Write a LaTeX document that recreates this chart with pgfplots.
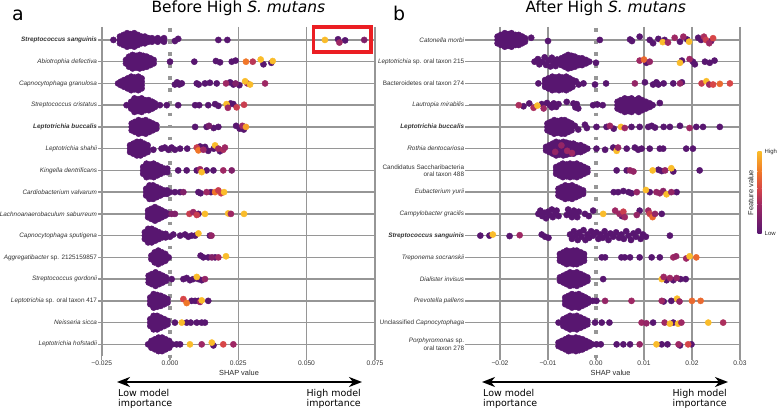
\documentclass[border=0pt]{standalone}
\usepackage{fontspec}
\setmainfont{Liberation Sans}
\newfontfamily\dejavu{DejaVu Sans}
\usepackage{pgfplots}
\pgfplotsset{compat=1.18}
\usetikzlibrary{arrows.meta}

\definecolor{gridgray}{RGB}{150,150,150}
\definecolor{zerogray}{RGB}{150,150,150}
\definecolor{lowpurple}{RGB}{88,22,112}
\definecolor{cmA}{RGB}{158,40,100}
\definecolor{cmB}{RGB}{215,70,72}
\definecolor{cmC}{RGB}{240,118,40}
\definecolor{highyellow}{RGB}{250,188,42}
\definecolor{boxred}{RGB}{235,30,35}

\pgfplotsset{
  colormap={shap}{rgb255(0cm)=(88,22,112); rgb255(3.5cm)=(158,40,100); rgb255(5.5cm)=(215,70,72); rgb255(7.5cm)=(240,118,40); rgb255(10cm)=(250,188,42)},
  panel/.style={
    anchor=center, scale only axis, height=329.4bp,
    ymin=0.4, ymax=15.55, y dir=reverse,
    axis line style={draw=none},
    ytick={1,...,15}, tick pos=left,
    scaled x ticks=false,
    xmajorgrids, ymajorgrids,
    grid style={gridgray, line width=1.6bp},
    tick align=outside, major tick length=3.5bp,
    tick style={gridgray, line width=1.3bp},
    xticklabel style={font=\fontsize{6.7}{8}\selectfont, text=black!80, inner sep=1bp},
    yticklabel style={font=\fontsize{6.4}{7.3}\selectfont\itshape, text=black!80, align=right, inner sep=1bp},
    extra x ticks={0}, extra x tick style={grid=none},
    colormap name=shap, point meta min=0, point meta max=1,
    clip=false,
  },
  purpledots/.style={only marks, mark=*, mark size=3.1bp, color=lowpurple},
  colordots/.style={only marks, scatter, scatter src=explicit, mark=*, mark size=3.1bp,
    scatter/use mapped color={draw=mapped color, fill=mapped color}},
  zeroline/.style={no marks, zerogray, line width=3.6bp, dash pattern=on 3.6bp off 8.5bp},
}

\begin{document}
\begin{tikzpicture}
\useasboundingbox (0bp,0bp) rectangle (778bp,409bp);

% ---------------- panel a: before ----------------
\begin{axis}[panel,
  at={(238.3bp,217.4bp)}, width=273.2bp,
  xmin=-0.025, xmax=0.075,
  xtick={-0.025,0.025,0.05,0.075},
  xticklabels={−0.025,0.025,0.050,0.075},
  extra x tick labels={0.000},
  yticklabels={
    {\bfseries Streptococcus sanguinis},
    Abiotrophia defectiva,
    Capnocytophaga granulosa,
    Streptococcus cristatus,
    {\bfseries Leptotrichia buccalis},
    Leptotrichia shahii,
    Kingella dentrificans,
    Cardiobacterium valvarum,
    Lachnoanaerobaculum saburreum,
    Capnocytophaga sputigena,
    {Aggregatibacter {\upshape sp. 2125159857}},
    Streptococcus gordonii,
    {Leptotrichia {\upshape sp. oral taxon 417}},
    Neisseria sicca,
    Leptotrichia hofstadii},
]
\addplot[zeroline] coordinates {(0,0.45) (0,15.7)};
\addplot[purpledots] coordinates {
% row 1
(-0.0207,1)
(-0.0183,0.845)(-0.0183,1)(-0.0183,1.155)
(-0.0170,0.77)(-0.0170,0.92)(-0.0170,1.08)(-0.0170,1.23)
(-0.0157,0.69)(-0.0157,0.845)(-0.0157,1)(-0.0157,1.155)(-0.0157,1.31)
(-0.0144,0.73)(-0.0144,0.92)(-0.0144,1.08)(-0.0144,1.27)
(-0.0131,0.69)(-0.0131,0.845)(-0.0131,1)(-0.0131,1.155)(-0.0131,1.31)
(-0.0118,0.77)(-0.0118,0.92)(-0.0118,1.08)(-0.0118,1.23)
(-0.0105,0.845)(-0.0105,1)(-0.0105,1.155)
(-0.0092,0.845)(-0.0092,1)(-0.0092,1.155)
(-0.0079,0.92)(-0.0079,1.08)(-0.0066,0.92)(-0.0066,1.08)(-0.0055,1)
(-0.0045,0.92)(-0.0045,1.08)(-0.0032,1)(-0.0022,0.92)(-0.0022,1.08)
(0.0018,1.05)(0.0030,0.95)(0.0177,1)(0.0210,1)(0.0615,0.97)(0.0641,1.02)
% row 2
(-0.0161,1.92)(-0.0161,2.08)
(-0.0150,1.77)(-0.0150,1.92)(-0.0150,2.08)(-0.0150,2.23)
(-0.0137,1.69)(-0.0137,1.845)(-0.0137,2)(-0.0137,2.155)(-0.0137,2.31)
(-0.0124,1.73)(-0.0124,1.92)(-0.0124,2.08)(-0.0124,2.27)
(-0.0111,1.69)(-0.0111,1.845)(-0.0111,2)(-0.0111,2.155)(-0.0111,2.31)
(-0.0098,1.73)(-0.0098,1.92)(-0.0098,2.08)(-0.0098,2.27)
(-0.0085,1.77)(-0.0085,1.92)(-0.0085,2.08)(-0.0085,2.23)
(-0.0072,1.845)(-0.0072,2)(-0.0072,2.155)
(-0.0060,1.92)(-0.0060,2.08)
(0,2)(0.0089,2)(0.0168,1.97)(0.0183,2.03)(0.0226,2)(0.0240,1.95)(0.0342,2.12)(0.0371,2.05)
% row 3
(-0.0190,3)
(-0.0180,2.92)(-0.0180,3.08)
(-0.0168,2.845)(-0.0168,3)(-0.0168,3.155)
(-0.0155,2.77)(-0.0155,2.92)(-0.0155,3.08)(-0.0155,3.23)
(-0.0142,2.69)(-0.0142,2.845)(-0.0142,3)(-0.0142,3.155)(-0.0142,3.31)
(-0.0129,2.73)(-0.0129,2.92)(-0.0129,3.08)(-0.0129,3.27)
(-0.0116,2.69)(-0.0116,2.845)(-0.0116,3)(-0.0116,3.155)(-0.0116,3.31)
(-0.0104,2.77)(-0.0104,2.92)(-0.0104,3.08)(-0.0104,3.23)
(0.0018,3.05)(0.0026,2.95)(0.0034,3.05)(0.0043,3)(0.0098,3)(0.0105,3.05)(0.0128,3)(0.0146,2.97)(0.0171,3)(0.0220,2.95)(0.0232,3.05)(0.0254,3.08)
% row 4
(-0.0159,4)
(-0.0142,3.845)(-0.0142,4)(-0.0142,4.155)
(-0.0130,3.69)(-0.0130,3.845)(-0.0130,4)(-0.0130,4.155)(-0.0130,4.31)
(-0.0117,3.73)(-0.0117,3.92)(-0.0117,4.08)(-0.0117,4.27)
(-0.0104,3.69)(-0.0104,3.845)(-0.0104,4)(-0.0104,4.155)(-0.0104,4.31)
(-0.0091,3.77)(-0.0091,3.92)(-0.0091,4.08)(-0.0091,4.23)
(-0.0078,3.77)(-0.0078,3.92)(-0.0078,4.08)(-0.0078,4.23)
(-0.0065,3.845)(-0.0065,4)(-0.0065,4.155)
(-0.0055,3.92)(-0.0055,4.08)
(-0.0037,4)(-0.0012,4)(0.0030,4)(0.0092,4)(0.0107,4)(0.0140,4)(0.0165,3.95)(0.0177,4.03)(0.0222,3.92)(0.0232,3.95)
% row 5
(-0.0140,4.845)(-0.0140,5)(-0.0140,5.155)
(-0.0128,4.77)(-0.0128,4.92)(-0.0128,5.08)(-0.0128,5.23)
(-0.0115,4.69)(-0.0115,4.845)(-0.0115,5)(-0.0115,5.155)(-0.0115,5.31)
(-0.0102,4.73)(-0.0102,4.92)(-0.0102,5.08)(-0.0102,5.27)
(-0.0089,4.69)(-0.0089,4.845)(-0.0089,5)(-0.0089,5.155)(-0.0089,5.31)
(-0.0076,4.77)(-0.0076,4.92)(-0.0076,5.08)(-0.0076,5.23)
(-0.0063,4.845)(-0.0063,5)(-0.0063,5.155)
(-0.0050,4.92)(-0.0050,5.08)
(0.0092,5)(0.0134,5)(0.0160,5.05)(0.0177,5)(0.0242,4.95)(0.0255,5.08)(0.0270,5.12)
% row 6
(-0.0146,5.845)(-0.0146,6)(-0.0146,6.155)
(-0.0134,5.77)(-0.0134,5.92)(-0.0134,6.08)(-0.0134,6.23)
(-0.0121,5.69)(-0.0121,5.845)(-0.0121,6)(-0.0121,6.155)(-0.0121,6.31)
(-0.0108,5.69)(-0.0108,5.845)(-0.0108,6)(-0.0108,6.155)(-0.0108,6.31)
(-0.0095,5.77)(-0.0095,5.92)(-0.0095,6.08)(-0.0095,6.23)
(-0.0082,5.845)(-0.0082,6)(-0.0082,6.155)
(-0.0061,6.05)(-0.0031,6)(-0.0019,5.95)(-0.0006,6.05)(0.0006,5.95)(0.0018,6.05)(0.0037,6)(0.0063,6)(0.0110,5.9)(0.0128,5.92)(0.0140,6.1)(0.0160,6)(0.0183,6.12)
% row 7
(-0.0098,6.845)(-0.0098,7)(-0.0098,7.155)
(-0.0086,6.69)(-0.0086,6.845)(-0.0086,7)(-0.0086,7.155)(-0.0086,7.31)
(-0.0073,6.73)(-0.0073,6.92)(-0.0073,7.08)(-0.0073,7.27)
(-0.0060,6.69)(-0.0060,6.845)(-0.0060,7)(-0.0060,7.155)(-0.0060,7.31)
(-0.0047,6.77)(-0.0047,6.92)(-0.0047,7.08)(-0.0047,7.23)
(-0.0034,6.845)(-0.0034,7)(-0.0034,7.155)
(-0.0021,6.92)(-0.0021,7.08)(-0.0010,6.92)(-0.0010,7.08)
(0.0030,7)(0.0061,7)(0.0098,7)(0.0134,7)(0.0159,7)
% row 8
(-0.0087,7.845)(-0.0087,8)(-0.0087,8.155)
(-0.0075,7.69)(-0.0075,7.845)(-0.0075,8)(-0.0075,8.155)(-0.0075,8.31)
(-0.0062,7.69)(-0.0062,7.845)(-0.0062,8)(-0.0062,8.155)(-0.0062,8.31)
(-0.0049,7.77)(-0.0049,7.92)(-0.0049,8.08)(-0.0049,8.23)
(-0.0036,7.845)(-0.0036,8)(-0.0036,8.155)
(-0.0023,7.92)(-0.0023,8.08)(-0.0011,7.92)(-0.0011,8.08)
(0,8)(0.0018,8)(0.0037,8)(0.0104,8)(0.0112,8.05)(0.0150,8)
% row 9
(-0.0080,8.845)(-0.0080,9)(-0.0080,9.155)
(-0.0068,8.77)(-0.0068,8.92)(-0.0068,9.08)(-0.0068,9.23)
(-0.0055,8.69)(-0.0055,8.845)(-0.0055,9)(-0.0055,9.155)(-0.0055,9.31)
(-0.0042,8.77)(-0.0042,8.92)(-0.0042,9.08)(-0.0042,9.23)
(-0.0030,8.845)(-0.0030,9)(-0.0030,9.155)
(-0.0018,8.92)(-0.0018,9.08)(-0.0007,9)
(0.0104,9)
% row 10
(-0.0092,9.845)(-0.0092,10)(-0.0092,10.155)
(-0.0080,9.69)(-0.0080,9.845)(-0.0080,10)(-0.0080,10.155)(-0.0080,10.31)
(-0.0067,9.69)(-0.0067,9.845)(-0.0067,10)(-0.0067,10.155)(-0.0067,10.31)
(-0.0054,9.77)(-0.0054,9.92)(-0.0054,10.08)(-0.0054,10.23)
(-0.0041,9.845)(-0.0041,10)(-0.0041,10.155)
(-0.0028,9.92)(-0.0028,10.08)(-0.0016,9.92)(-0.0016,10.08)
(0,10.05)(0.0012,9.95)(0.0037,10)(0.0055,9.95)(0.0067,10.05)(0.0079,10)(0.0092,10)(0.0146,10)
% row 11
(-0.0068,10.92)(-0.0068,11.08)
(-0.0056,10.77)(-0.0056,10.92)(-0.0056,11.08)(-0.0056,11.23)
(-0.0043,10.69)(-0.0043,10.845)(-0.0043,11)(-0.0043,11.155)(-0.0043,11.31)
(-0.0030,10.77)(-0.0030,10.92)(-0.0030,11.08)(-0.0030,11.23)
(-0.0017,10.845)(-0.0017,11)(-0.0017,11.155)
(-0.0005,11)
(0.0112,10.92)(0.0122,11)(0.0140,11)(0.0165,11)
% row 12
(-0.0078,11.845)(-0.0078,12)(-0.0078,12.155)
(-0.0066,11.77)(-0.0066,11.92)(-0.0066,12.08)(-0.0066,12.23)
(-0.0053,11.69)(-0.0053,11.845)(-0.0053,12)(-0.0053,12.155)(-0.0053,12.31)
(-0.0040,11.77)(-0.0040,11.92)(-0.0040,12.08)(-0.0040,12.23)
(-0.0027,11.845)(-0.0027,12)(-0.0027,12.155)
(-0.0015,11.92)(-0.0015,12.08)
(0.0006,12)(0.0049,12)(0.0061,11.95)(0.0073,12.05)(0.0085,12)(0.0104,12)(0.0116,12.05)
% row 13
(-0.0072,12.845)(-0.0072,13)(-0.0072,13.155)
(-0.0060,12.69)(-0.0060,12.845)(-0.0060,13)(-0.0060,13.155)(-0.0060,13.31)
(-0.0047,12.73)(-0.0047,12.92)(-0.0047,13.08)(-0.0047,13.27)
(-0.0034,12.77)(-0.0034,12.92)(-0.0034,13.08)(-0.0034,13.23)
(-0.0021,12.845)(-0.0021,13)(-0.0021,13.155)
(-0.0009,12.92)(-0.0009,13.08)
(0.0079,13)(0.0092,13)(0.0104,13)(0.0140,13)
% row 14
(-0.0072,13.845)(-0.0072,14)(-0.0072,14.155)
(-0.0060,13.69)(-0.0060,13.845)(-0.0060,14)(-0.0060,14.155)(-0.0060,14.31)
(-0.0047,13.69)(-0.0047,13.845)(-0.0047,14)(-0.0047,14.155)(-0.0047,14.31)
(-0.0034,13.77)(-0.0034,13.92)(-0.0034,14.08)(-0.0034,14.23)
(-0.0021,13.845)(-0.0021,14)(-0.0021,14.155)
(-0.0009,13.92)(-0.0009,14.08)
(0.0018,14)(0.0061,14)(0.0076,14)(0.0098,14)(0.0116,14)(0.0128,14)
% row 15
(-0.0080,15)
(-0.0068,14.845)(-0.0068,15)(-0.0068,15.155)
(-0.0055,14.77)(-0.0055,14.92)(-0.0055,15.08)(-0.0055,15.23)
(-0.0042,14.69)(-0.0042,14.845)(-0.0042,15)(-0.0042,15.155)(-0.0042,15.31)
(-0.0029,14.69)(-0.0029,14.845)(-0.0029,15)(-0.0029,15.155)(-0.0029,15.31)
(-0.0016,14.77)(-0.0016,14.92)(-0.0016,15.08)(-0.0016,15.23)
(-0.0003,14.845)(-0.0003,15)(-0.0003,15.155)
(0.0008,15)
(0.0024,15)(0.0037,15)(0.0159,15.05)
};
\addplot[colordots] coordinates {
(0.0567,1)[1] (0.0620,1.12)[0.35] (0.0711,1)[0.2]
(0.0278,2)[0.75] (0.0303,2)[0.45] (0.0332,1.9)[1] (0.0376,1.97)[1]
(0.0205,3)[0.35] (0.0240,3)[0.2] (0.0283,3)[0.35] (0.0275,2.9)[1] (0.0293,3.05)[1] (0.0348,3)[0.35]
(0.0207,3.95)[1] (0.0212,4.12)[0.35] (0.0244,4.1)[0.5] (0.0271,3.98)[0.5]
(0.0143,4.95)[0.15] (0.0265,4.95)[0.35] (0.0278,5)[0.9]
(0.0098,5.95)[0.5] (0.0104,6.08)[0.75] (0.0122,6.05)[0.35] (0.0165,5.85)[1] (0.0177,6)[0.35] (0.0195,6.05)[0.4] (0.0201,5.95)[0.35]
(0.0110,6.95)[0.35] (0.0116,7.08)[1] (0.0195,7)[0.35] (0.0226,7)[0.2]
(0.0049,8)[0.2] (0.0134,8)[0.35] (0.0165,8)[0.75] (0.0177,7.92)[0.5] (0.0187,8.05)[0.5] (0.0198,8)[1]
(0.0006,9)[0.2] (0.0018,9)[0.2] (0.0071,9)[0.5] (0.0085,8.92)[0.35] (0.0098,9.05)[0.5] (0.0128,9)[1] (0.0213,8.98)[1] (0.0223,9)[0.35] (0.0271,9)[1]
(0.0104,9.9)[1] (0.0152,10)[0.3]
(0.0153,11)[0.2] (0.0177,11)[0.35] (0.0205,10.95)[1]
(0.0098,11.9)[1] (0.0128,12)[0.3]
(0.0049,12.92)[0.55] (0.0061,13.1)[0.75] (0.0110,13.05)[0.35] (0.0116,12.98)[1]
(0.0043,14)[1]
(0.0073,15)[1] (0.0116,15)[0.35] (0.0153,14.92)[1] (0.0195,15)[0.55] (0.0232,15)[0.35]
};
\end{axis}

% ---------------- panel b: after ----------------
\begin{axis}[panel,
  at={(605.1bp,217.4bp)}, width=272.6bp,
  xmin=-0.0265, xmax=0.0303,
  xtick={-0.02,-0.01,0.01,0.02,0.03},
  xticklabels={−0.02,−0.01,0.01,0.02,0.03},
  extra x tick labels={0.00},
  yticklabels={
    Catonella morbi,
    {Leptotrichia {\upshape sp. oral taxon 215}},
    {\upshape Bacteroidetes oral taxon 274},
    Lautropia mirabilis,
    {\bfseries Leptotrichia buccalis},
    Rothia dentocariosa,
    {{\upshape Candidatus Saccharibacteria}\\{\upshape oral taxon 488}},
    Eubacterium yurii,
    Campylobacter gracilis,
    {\bfseries Streptococcus sanguinis},
    Treponema socranskii,
    Dialister invisus,
    Prevotella pallens,
    {{\upshape Unclassified} Capnocytophaga},
    {Porphyromonas {\upshape sp.}\\{\upshape oral taxon 278}}},
]
\addplot[zeroline] coordinates {(0,0.45) (0,15.7)};
\addplot[purpledots] coordinates {
% row 1
(-0.0205,0.845)(-0.0205,1)(-0.0205,1.155)
(-0.0198,0.77)(-0.0198,0.92)(-0.0198,1.08)(-0.0198,1.23)
(-0.0190,0.69)(-0.0190,0.845)(-0.0190,1)(-0.0190,1.155)(-0.0190,1.31)
(-0.0183,0.73)(-0.0183,0.92)(-0.0183,1.08)(-0.0183,1.27)
(-0.0176,0.69)(-0.0176,0.845)(-0.0176,1)(-0.0176,1.155)(-0.0176,1.31)
(-0.0168,0.77)(-0.0168,0.92)(-0.0168,1.08)(-0.0168,1.23)
(-0.0161,0.77)(-0.0161,0.92)(-0.0161,1.08)(-0.0161,1.23)
(-0.0154,0.845)(-0.0154,1)(-0.0154,1.155)
(-0.0148,0.92)(-0.0148,1.08)
(-0.0135,0.9)(-0.0100,1.05)(0.0008,1)(0.0071,0.98)(0.0075,1.05)(0.0091,0.85)(0.0112,1)(0.0119,1.15)(0.0130,0.95)(0.0143,1)(0.0175,1.08)(0.0190,0.98)(0.0213,0.9)(0.0219,1)(0.0240,1.05)
% row 2
(-0.0128,2)(-0.0121,1.88)(-0.0118,2.12)(-0.0112,2)(-0.0107,1.8)(-0.0104,2.15)(-0.0099,1.95)(-0.0095,2.22)(-0.0092,1.82)(-0.0088,2.05)(-0.0084,2.2)(-0.0081,1.9)(-0.0078,2.05)
(-0.0072,1.845)(-0.0072,2)(-0.0072,2.155)
(-0.0065,1.77)(-0.0065,1.92)(-0.0065,2.08)(-0.0065,2.23)
(-0.0058,1.69)(-0.0058,1.845)(-0.0058,2)(-0.0058,2.155)(-0.0058,2.31)
(-0.0051,1.73)(-0.0051,1.92)(-0.0051,2.08)(-0.0051,2.27)
(-0.0044,1.77)(-0.0044,1.92)(-0.0044,2.08)(-0.0044,2.23)
(-0.0036,1.845)(-0.0036,2)(-0.0036,2.155)
(-0.0029,1.845)(-0.0029,2)(-0.0029,2.155)
(-0.0021,1.92)(-0.0021,2.08)(-0.0014,2)
(0,2.05)(0.0105,2.05)(0.0179,1.95)(0.0202,2)(0.0206,2.12)(0.0227,2)(0.0237,2.05)(0.0247,1.95)
% row 3
(-0.0120,3)
(-0.0106,2.845)(-0.0106,3)(-0.0106,3.155)
(-0.0099,2.77)(-0.0099,2.92)(-0.0099,3.08)(-0.0099,3.23)
(-0.0091,2.69)(-0.0091,2.845)(-0.0091,3)(-0.0091,3.155)(-0.0091,3.31)
(-0.0084,2.73)(-0.0084,2.92)(-0.0084,3.08)(-0.0084,3.27)
(-0.0077,2.69)(-0.0077,2.845)(-0.0077,3)(-0.0077,3.155)(-0.0077,3.31)
(-0.0070,2.73)(-0.0070,2.92)(-0.0070,3.08)(-0.0070,3.27)
(-0.0062,2.69)(-0.0062,2.845)(-0.0062,3)(-0.0062,3.155)(-0.0062,3.31)
(-0.0055,2.77)(-0.0055,2.92)(-0.0055,3.08)(-0.0055,3.23)
(-0.0049,2.845)(-0.0049,3)(-0.0049,3.155)
(-0.0042,2.9)(-0.0036,3.05)(-0.0026,3)(-0.0002,3.05)(0.0021,3)(0.0102,2.95)(0.0119,3.05)(0.0126,2.95)(0.0130,3.05)(0.0141,3)(0.0161,3)(0.0179,2.95)
% row 4
(-0.0151,4.05)(-0.0139,3.92)(-0.0113,3.95)(-0.0102,3.9)(-0.0096,4)(-0.0092,4.1)(-0.0088,3.92)(-0.0083,4.08)(-0.0078,3.95)(-0.0061,3.85)
(-0.0047,3.92)(-0.0043,4.1)(-0.0040,3.95)(-0.0037,4.15)(-0.0006,4)(0.0003,3.97)(0.0014,4)
(0.0045,3.845)(0.0045,4)(0.0045,4.155)
(0.0052,3.77)(0.0052,3.92)(0.0052,4.08)(0.0052,4.23)
(0.0060,3.69)(0.0060,3.845)(0.0060,4)(0.0060,4.155)(0.0060,4.31)
(0.0067,3.73)(0.0067,3.92)(0.0067,4.08)(0.0067,4.27)
(0.0074,3.69)(0.0074,3.845)(0.0074,4)(0.0074,4.155)(0.0074,4.31)
(0.0082,3.77)(0.0082,3.92)(0.0082,4.08)(0.0082,4.23)
(0.0089,3.69)(0.0089,3.845)(0.0089,4)(0.0089,4.155)(0.0089,4.31)
(0.0096,3.77)(0.0096,3.92)(0.0096,4.08)(0.0096,4.23)
(0.0104,3.845)(0.0104,4)(0.0104,4.155)
(0.0112,3.92)(0.0112,4.08)(0.0118,4)(0.0133,3.9)
% row 5
(-0.0101,4.845)(-0.0101,5)(-0.0101,5.155)
(-0.0094,4.77)(-0.0094,4.92)(-0.0094,5.08)(-0.0094,5.23)
(-0.0087,4.69)(-0.0087,4.845)(-0.0087,5)(-0.0087,5.155)(-0.0087,5.31)
(-0.0080,4.73)(-0.0080,4.92)(-0.0080,5.08)(-0.0080,5.27)
(-0.0072,4.69)(-0.0072,4.845)(-0.0072,5)(-0.0072,5.155)(-0.0072,5.31)
(-0.0065,4.69)(-0.0065,4.845)(-0.0065,5)(-0.0065,5.155)(-0.0065,5.31)
(-0.0058,4.77)(-0.0058,4.92)(-0.0058,5.08)(-0.0058,5.23)
(-0.0051,4.845)(-0.0051,5)(-0.0051,5.155)
(-0.0044,4.95)(-0.0037,5.12)(-0.0023,4.9)(-0.0019,5.05)(0.0001,5)(0.0022,5)(0.0037,5.08)(0.0074,5)(0.0091,5)(0.0109,5)(0.0116,4.95)(0.0123,5.03)(0.0141,5)(0.0154,5)(0.0175,4.95)(0.0209,5)(0.0223,5)(0.0258,5)
% row 6
(-0.0104,5.92)(-0.0104,6.08)
(-0.0097,5.845)(-0.0097,6)(-0.0097,6.155)
(-0.0090,5.77)(-0.0090,5.92)(-0.0090,6.08)(-0.0090,6.23)
(-0.0083,5.69)(-0.0083,5.845)(-0.0083,6)(-0.0083,6.155)(-0.0083,6.31)
(-0.0076,5.73)(-0.0076,5.92)(-0.0076,6.08)(-0.0076,6.27)
(-0.0068,5.69)(-0.0068,5.845)(-0.0068,6)(-0.0068,6.155)(-0.0068,6.31)
(-0.0061,5.73)(-0.0061,5.92)(-0.0061,6.08)(-0.0061,6.27)
(-0.0054,5.77)(-0.0054,5.92)(-0.0054,6.08)(-0.0054,6.23)
(-0.0047,5.77)(-0.0047,5.92)(-0.0047,6.08)(-0.0047,6.23)
(-0.0040,5.845)(-0.0040,6)(-0.0040,6.155)
(-0.0032,5.845)(-0.0032,6)(-0.0032,6.155)
(-0.0025,5.92)(-0.0025,6.08)(-0.0018,6)
(0.0001,6)(0.0019,6.05)(0.0036,5.95)(0.0064,6)(0.0081,5.95)(0.0088,6.05)(0.0095,6)(0.0112,6)(0.0133,6)(0.0140,6)(0.0188,6)(0.0202,6)
% row 7
(-0.0083,6.845)(-0.0083,7)(-0.0083,7.155)
(-0.0076,6.77)(-0.0076,6.92)(-0.0076,7.08)(-0.0076,7.23)
(-0.0069,6.69)(-0.0069,6.845)(-0.0069,7)(-0.0069,7.155)(-0.0069,7.31)
(-0.0061,6.73)(-0.0061,6.92)(-0.0061,7.08)(-0.0061,7.27)
(-0.0054,6.69)(-0.0054,6.845)(-0.0054,7)(-0.0054,7.155)(-0.0054,7.31)
(-0.0047,6.73)(-0.0047,6.92)(-0.0047,7.08)(-0.0047,7.27)
(-0.0040,6.69)(-0.0040,6.845)(-0.0040,7)(-0.0040,7.155)(-0.0040,7.31)
(-0.0032,6.77)(-0.0032,6.92)(-0.0032,7.08)(-0.0032,7.23)
(-0.0025,6.845)(-0.0025,7)(-0.0025,7.155)
(-0.0018,6.92)(-0.0018,7.08)
(0.0043,7)(0.0064,7)(0.0130,6.97)(0.0137,7.03)(0.0161,7.05)(0.0216,7)
% row 8
(-0.0078,7.845)(-0.0078,8)(-0.0078,8.155)
(-0.0071,7.77)(-0.0071,7.92)(-0.0071,8.08)(-0.0071,8.23)
(-0.0064,7.69)(-0.0064,7.845)(-0.0064,8)(-0.0064,8.155)(-0.0064,8.31)
(-0.0057,7.73)(-0.0057,7.92)(-0.0057,8.08)(-0.0057,8.27)
(-0.0050,7.69)(-0.0050,7.845)(-0.0050,8)(-0.0050,8.155)(-0.0050,8.31)
(-0.0042,7.77)(-0.0042,7.92)(-0.0042,8.08)(-0.0042,8.23)
(-0.0035,7.845)(-0.0035,8)(-0.0035,8.155)
(-0.0027,7.92)(-0.0027,8.08)
(0.0037,8)(0.0046,8)(0.0057,7.95)(0.0068,8)(0.0074,8.05)(0.0112,8)(0.0168,8)
% row 9
(-0.0120,9)(-0.0116,8.85)(-0.0112,9.1)(-0.0108,8.95)(-0.0104,9.2)(-0.0100,8.9)(-0.0097,9.05)(-0.0092,8.8)(-0.0090,9.15)(-0.0085,9)(-0.0082,8.85)(-0.0078,9.1)
(-0.0061,9.05)(-0.0058,8.8)(-0.0054,8.95)(-0.0050,9.15)(-0.0046,8.85)(-0.0043,9)(-0.0039,9.15)(-0.0036,8.9)
(-0.0023,9)(-0.0015,9.1)(-0.0006,8.85)(0.0054,9.1)(0.0091,8.85)(0.0137,9)
% row 10
(-0.0241,10)(-0.0222,10)(-0.0180,10.02)(-0.0113,9.95)(-0.0106,10.05)(-0.0099,10.1)
(-0.0054,9.95)(-0.0050,10.15)(-0.0046,9.8)(-0.0042,10)(-0.0038,10.2)(-0.0034,9.85)(-0.0030,10.05)(-0.0026,9.75)(-0.0022,10.2)(-0.0018,9.95)
(-0.0014,10.1)(-0.0010,9.8)(-0.0006,10)(0.0001,9.85)(0.0005,10.15)(0.0009,9.95)(0.0014,10.1)(0.0018,9.8)(0.0022,10)(0.0026,10.2)
(0.0030,9.9)(0.0036,10.05)(0.0042,9.85)(0.0048,10.1)(0.0053,9.95)(0.0058,10.15)(0.0063,9.8)(0.0068,10)(0.0073,10.2)(0.0078,9.9)
(0.0083,10.05)(0.0088,9.8)(0.0093,10.15)(0.0098,9.95)(0.0104,10.05)(0.0154,10)
% row 11
(-0.0075,10.845)(-0.0075,11)(-0.0075,11.155)
(-0.0068,10.77)(-0.0068,10.92)(-0.0068,11.08)(-0.0068,11.23)
(-0.0061,10.69)(-0.0061,10.845)(-0.0061,11)(-0.0061,11.155)(-0.0061,11.31)
(-0.0054,10.73)(-0.0054,10.92)(-0.0054,11.08)(-0.0054,11.27)
(-0.0047,10.69)(-0.0047,10.845)(-0.0047,11)(-0.0047,11.155)(-0.0047,11.31)
(-0.0040,10.69)(-0.0040,10.845)(-0.0040,11)(-0.0040,11.155)(-0.0040,11.31)
(-0.0032,10.77)(-0.0032,10.92)(-0.0032,11.08)(-0.0032,11.23)
(-0.0025,10.845)(-0.0025,11)(-0.0025,11.155)
(0.0012,11)(0.0019,11)(0.0053,11)(0.0060,11)(0.0071,11)(0.0091,11)(0.0116,11)(0.0133,11)
% row 12
(-0.0075,11.92)(-0.0075,12.08)
(-0.0068,11.845)(-0.0068,12)(-0.0068,12.155)
(-0.0061,11.77)(-0.0061,11.92)(-0.0061,12.08)(-0.0061,12.23)
(-0.0054,11.69)(-0.0054,11.845)(-0.0054,12)(-0.0054,12.155)(-0.0054,12.31)
(-0.0047,11.73)(-0.0047,11.92)(-0.0047,12.08)(-0.0047,12.27)
(-0.0040,11.69)(-0.0040,11.845)(-0.0040,12)(-0.0040,12.155)(-0.0040,12.31)
(-0.0032,11.77)(-0.0032,11.92)(-0.0032,12.08)(-0.0032,12.23)
(-0.0025,11.845)(-0.0025,12)(-0.0025,12.155)
(-0.0018,11.92)(-0.0018,12.08)
(0.0015,12)(0.0147,12.05)(0.0161,12.05)(0.0176,12)(0.0187,12)
% row 13
(-0.0064,12.845)(-0.0064,13)(-0.0064,13.155)
(-0.0057,12.77)(-0.0057,12.92)(-0.0057,13.08)(-0.0057,13.23)
(-0.0050,12.69)(-0.0050,12.845)(-0.0050,13)(-0.0050,13.155)(-0.0050,13.31)
(-0.0043,12.73)(-0.0043,12.92)(-0.0043,13.08)(-0.0043,13.27)
(-0.0036,12.69)(-0.0036,12.845)(-0.0036,13)(-0.0036,13.155)(-0.0036,13.31)
(-0.0029,12.77)(-0.0029,12.92)(-0.0029,13.08)(-0.0029,13.23)
(-0.0022,12.845)(-0.0022,13)(-0.0022,13.155)
(-0.0016,12.92)(-0.0016,13.08)
(-0.0007,13)(0.0001,13)(0.0141,13.03)(0.0157,13)
% row 14
(-0.0078,14)
(-0.0068,13.845)(-0.0068,14)(-0.0068,14.155)
(-0.0061,13.77)(-0.0061,13.92)(-0.0061,14.08)(-0.0061,14.23)
(-0.0054,13.69)(-0.0054,13.845)(-0.0054,14)(-0.0054,14.155)(-0.0054,14.31)
(-0.0047,13.73)(-0.0047,13.92)(-0.0047,14.08)(-0.0047,14.27)
(-0.0040,13.69)(-0.0040,13.845)(-0.0040,14)(-0.0040,14.155)(-0.0040,14.31)
(-0.0032,13.77)(-0.0032,13.92)(-0.0032,14.08)(-0.0032,14.23)
(-0.0025,13.845)(-0.0025,14)(-0.0025,14.155)
(-0.0018,13.92)(-0.0018,14.08)
(-0.0002,14)(0.0012,14)(0.0028,14)(0.0119,14)(0.0161,14)
% row 15
(-0.0078,14.92)(-0.0078,15.08)
(-0.0071,14.845)(-0.0071,15)(-0.0071,15.155)
(-0.0064,14.77)(-0.0064,14.92)(-0.0064,15.08)(-0.0064,15.23)
(-0.0057,14.69)(-0.0057,14.845)(-0.0057,15)(-0.0057,15.155)(-0.0057,15.31)
(-0.0050,14.73)(-0.0050,14.92)(-0.0050,15.08)(-0.0050,15.27)
(-0.0042,14.69)(-0.0042,14.845)(-0.0042,15)(-0.0042,15.155)(-0.0042,15.31)
(-0.0035,14.73)(-0.0035,14.92)(-0.0035,15.08)(-0.0035,15.27)
(-0.0028,14.77)(-0.0028,14.92)(-0.0028,15.08)(-0.0028,15.23)
(-0.0021,14.845)(-0.0021,15)(-0.0021,15.155)
(-0.0014,14.92)(-0.0014,15.08)(-0.0008,15)
(0.0001,15)(0.0010,15)(0.0043,15)(0.0057,15)(0.0071,15)(0.0137,15)(0.0149,15)(0.0175,15.05)(0.0199,15)
};
\addplot[colordots] coordinates {
(0.0139,1.1)[1] (0.0150,1.12)[0.35] (0.0164,0.9)[0.35] (0.0182,0.85)[0.35] (0.0194,1.08)[1] (0.0225,0.85)[0.4] (0.0229,1)[0.5] (0.0236,1.15)[0.35] (0.0244,0.92)[0.55]
(0.0091,1.95)[0.35] (0.0100,1.9)[0.7] (0.0112,2)[0.3] (0.0175,2.05)[1] (0.0195,1.88)[0.35]
(0.0081,3)[0.3] (0.0175,3)[0.3] (0.0220,3)[0.5] (0.0230,2.9)[1] (0.0236,3.05)[0.35] (0.0244,3.05)[0.55] (0.0258,3.02)[0.7] (0.0279,3)[0.55]
(-0.0161,4)[0.4] (-0.0130,4.12)[0.4] (-0.0122,4.02)[1] (-0.0109,4.15)[0.35]
(0.0029,4.95)[0.35] (0.0052,5)[1] (0.0060,5.05)[0.35] (0.0195,5.05)[0.35]
(-0.0060,6.1)[0.35] (-0.0072,5.85)[0.3] (-0.0050,6.2)[0.35] (-0.0085,6.15)[0.3] (0.0043,6.1)[1] (0.0046,5.95)[0.3]
(0.0071,7)[0.3] (0.0078,7.05)[0.3] (0.0118,7)[1] (0.0144,7)[0.3] (0.0157,6.9)[1]
(0.0085,8)[0.3] (0.0104,7.9)[1] (0.0126,8)[0.3] (0.0133,8.05)[0.3] (0.0140,7.95)[0.25] (0.0147,8.1)[1] (0.0157,8)[0.3]
(0.0015,9)[1] (0.0040,8.85)[0.35] (0.0049,9)[0.35] (0.0057,8.9)[0.5] (0.0060,9.15)[0.35] (0.0085,9.05)[0.3] (0.0109,8.85)[0.35] (0.0112,9)[0.5] (0.0118,9.15)[0.7] (0.0123,9)[0.3]
(-0.0215,9.95)[1] (-0.0159,9.98)[0.35]
(0.0161,11)[0.35] (0.0167,10.95)[0.3] (0.0188,11.05)[0.35] (0.0195,10.95)[1] (0.0209,11)[0.7]
(0.0137,12)[1] (0.0141,11.9)[0.35] (0.0154,11.95)[0.35] (0.0168,11.95)[0.3]
(0.0019,13)[0.3] (0.0074,13)[0.35] (0.0137,13)[0.35] (0.0169,12.9)[1] (0.0174,13.03)[0.3] (0.0200,13)[0.7] (0.0218,13)[0.7]
(0.0095,14)[0.35] (0.0105,14.03)[0.3] (0.0143,14)[0.35] (0.0154,14.05)[1] (0.0171,14.05)[1] (0.0178,14)[0.35] (0.0234,14)[1] (0.0265,14)[0.4]
(0.0091,15)[0.3] (0.0126,15)[1] (0.0172,15)[0.35] (0.0192,15)[0.55]
};
\end{axis}

% highlight box round the far-right points of the top row
\draw[boxred, line width=3.4bp] (313.5bp,382bp) rectangle (371bp,357bp);

% panel letters and titles
\node[anchor=base west, inner sep=0, font=\dejavu\fontsize{19}{22}\selectfont] at (12bp,388.3bp) {a};
\node[anchor=base west, inner sep=0, font=\dejavu\fontsize{19}{22}\selectfont] at (393bp,388.3bp) {b};
\node[anchor=base, inner sep=0, font=\dejavu\fontsize{15.5}{18}\selectfont] at (238.3bp,396.5bp) {Before High \textit{S. mutans}};
\node[anchor=base, inner sep=0, font=\dejavu\fontsize{15.5}{18}\selectfont] at (605.8bp,396.5bp) {After High \textit{S. mutans}};

% x axis titles
\node[font=\fontsize{7.4}{9}\selectfont, text=black!85] at (239bp,36bp) {SHAP value};
\node[font=\fontsize{7.4}{9}\selectfont, text=black!85] at (610.5bp,36bp) {SHAP value};

% importance arrows
\draw[line width=1.7bp, {Stealth[length=13bp,width=10bp,inset=4bp]}-{Stealth[length=13bp,width=10bp,inset=4bp]}] (117bp,27bp) -- (362bp,27bp);
\draw[line width=1.7bp, {Stealth[length=13bp,width=10bp,inset=4bp]}-{Stealth[length=13bp,width=10bp,inset=4bp]}] (482bp,27bp) -- (728bp,27bp);
\begin{scope}[every node/.style={inner sep=0, font=\dejavu\fontsize{9.5}{11}\selectfont}]
\node[anchor=base west] at (118bp,12.5bp) {Low model};
\node[anchor=base west] at (118bp,2.3bp) {importance};
\node[anchor=base east] at (361bp,12.5bp) {High model};
\node[anchor=base east] at (361bp,2.3bp) {importance};
\node[anchor=base west] at (483bp,12.5bp) {Low model};
\node[anchor=base west] at (483bp,2.3bp) {importance};
\node[anchor=base east] at (727bp,12.5bp) {High model};
\node[anchor=base east] at (727bp,2.3bp) {importance};
\end{scope}

% feature value colour bar
\shade[bottom color=lowpurple, top color=cmA] (757.5bp,175.7bp) rectangle (761.7bp,204.3bp);
\shade[bottom color=cmA, top color=cmB] (757.5bp,204.2bp) rectangle (761.7bp,220.7bp);
\shade[bottom color=cmB, top color=cmC] (757.5bp,220.6bp) rectangle (761.7bp,237.1bp);
\shade[bottom color=cmC, top color=highyellow] (757.5bp,237bp) rectangle (761.7bp,257.3bp);
\node[rotate=90, font=\fontsize{7.5}{9}\selectfont, text=black!85] at (750.7bp,216.3bp) {Feature value};
\node[anchor=west, inner sep=0, font=\fontsize{6}{7}\selectfont, text=black!85] at (764.5bp,257bp) {High};
\node[anchor=west, inner sep=0, font=\fontsize{6}{7}\selectfont, text=black!85] at (764.5bp,176bp) {Low};
\end{tikzpicture}
\end{document}
